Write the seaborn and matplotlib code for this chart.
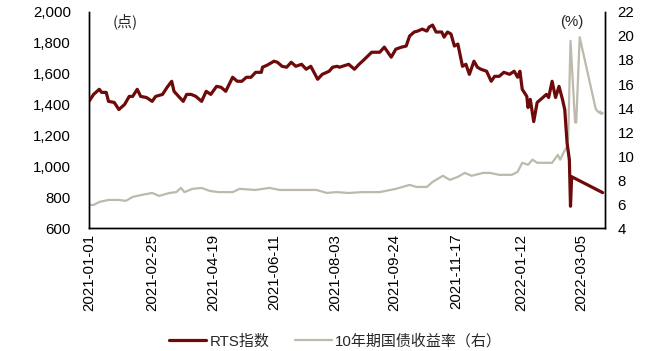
import matplotlib
matplotlib.use("Agg")
import matplotlib.pyplot as plt
from matplotlib.ticker import FuncFormatter, MultipleLocator
import seaborn as sns
import pandas as pd

# ---- data ----
rts_dates = [
    "2021-01-01", "2021-01-05", "2021-01-10", "2021-01-12", "2021-01-16", "2021-01-18",
    "2021-01-23", "2021-01-27", "2021-02-01", "2021-02-05", "2021-02-08", "2021-02-12",
    "2021-02-15", "2021-02-20", "2021-02-25", "2021-02-28", "2021-03-06", "2021-03-10",
    "2021-03-14", "2021-03-16", "2021-03-20", "2021-03-24", "2021-03-27", "2021-03-31",
    "2021-04-04", "2021-04-09", "2021-04-13", "2021-04-17", "2021-04-22", "2021-04-26",
    "2021-04-30", "2021-05-06", "2021-05-10", "2021-05-14", "2021-05-18", "2021-05-22",
    "2021-05-26", "2021-05-31", "2021-06-01", "2021-06-05", "2021-06-11", "2021-06-14",
    "2021-06-18", "2021-06-22", "2021-06-26", "2021-06-30", "2021-07-05", "2021-07-09",
    "2021-07-13", "2021-07-19", "2021-07-23", "2021-07-29", "2021-08-01", "2021-08-05",
    "2021-08-07", "2021-08-15", "2021-08-20", "2021-08-24", "2021-08-27", "2021-09-04",
    "2021-09-11", "2021-09-15", "2021-09-21", "2021-09-25", "2021-09-30", "2021-10-04",
    "2021-10-07", "2021-10-11", "2021-10-14", "2021-10-18", "2021-10-22", "2021-10-24",
    "2021-10-27", "2021-10-30", "2021-11-04", "2021-11-06", "2021-11-09", "2021-11-12",
    "2021-11-15", "2021-11-18", "2021-11-22", "2021-11-25", "2021-11-28", "2021-12-02",
    "2021-12-05", "2021-12-08", "2021-12-13", "2021-12-17", "2021-12-20", "2021-12-24",
    "2021-12-28", "2022-01-02", "2022-01-06", "2022-01-09", "2022-01-11", "2022-01-13",
    "2022-01-17", "2022-01-18", "2022-01-20", "2022-01-23", "2022-01-26", "2022-01-31",
    "2022-02-03", "2022-02-05", "2022-02-08", "2022-02-11", "2022-02-14", "2022-02-17",
    "2022-02-19", "2022-02-21", "2022-02-23", "2022-02-24", "2022-02-25", "2022-03-24",
]
rts_values = [
    1421, 1466, 1499, 1479, 1479, 1421,
    1414, 1368, 1401, 1453, 1453, 1499,
    1453, 1446, 1421, 1453, 1466, 1512,
    1551, 1486, 1453, 1421, 1466, 1466,
    1453, 1421, 1486, 1466, 1518, 1512,
    1486, 1577, 1551, 1551, 1577, 1577,
    1609, 1609, 1642, 1655, 1681, 1674,
    1648, 1642, 1674, 1648, 1661, 1629,
    1648, 1564, 1596, 1616, 1642, 1648,
    1642, 1661, 1629, 1661, 1681, 1739,
    1739, 1772, 1707, 1759, 1772, 1779,
    1844, 1870, 1876, 1889, 1876, 1902,
    1915, 1870, 1870, 1837, 1870, 1857,
    1779, 1792, 1648, 1661, 1596, 1681,
    1642, 1629, 1616, 1551, 1583, 1583,
    1609, 1596, 1616, 1577, 1616, 1499,
    1453, 1381, 1434, 1290, 1414, 1446,
    1466, 1446, 1551, 1446, 1518, 1434,
    1368, 1154, 1043, 742, 933, 830,
]

yld_dates = [
    "2021-01-01", "2021-01-05", "2021-01-10", "2021-01-18", "2021-01-27", "2021-02-02",
    "2021-02-08", "2021-02-16", "2021-02-25", "2021-03-03", "2021-03-12", "2021-03-18",
    "2021-03-22", "2021-03-25", "2021-04-01", "2021-04-09", "2021-04-16", "2021-04-24",
    "2021-05-06", "2021-05-12", "2021-05-26", "2021-06-07", "2021-06-16", "2021-06-27",
    "2021-07-09", "2021-07-18", "2021-07-27", "2021-08-04", "2021-08-15", "2021-08-27",
    "2021-09-11", "2021-09-25", "2021-10-07", "2021-10-13", "2021-10-22", "2021-10-27",
    "2021-11-05", "2021-11-11", "2021-11-18", "2021-11-24", "2021-11-30", "2021-12-10",
    "2021-12-16", "2021-12-24", "2022-01-04", "2022-01-09", "2022-01-13", "2022-01-18",
    "2022-01-22", "2022-01-26", "2022-02-03", "2022-02-08", "2022-02-13", "2022-02-15",
    "2022-02-18", "2022-02-21", "2022-02-22", "2022-02-24", "2022-02-28", "2022-03-01",
    "2022-03-04", "2022-03-18", "2022-03-21", "2022-03-22", "2022-03-23", "2022-03-24",
]
yld_values = [
    5.93, 5.93, 6.18, 6.35, 6.35, 6.27,
    6.60, 6.77, 6.93, 6.68, 6.93, 7.00,
    7.35, 7.00, 7.27, 7.35, 7.10, 7.00,
    7.00, 7.27, 7.18, 7.35, 7.18, 7.18,
    7.18, 7.18, 6.93, 7.00, 6.93, 7.00,
    7.00, 7.27, 7.60, 7.43, 7.43, 7.85,
    8.36, 8.02, 8.27, 8.60, 8.36, 8.60,
    8.60, 8.44, 8.44, 8.69, 9.44, 9.28,
    9.70, 9.44, 9.44, 9.44, 10.10, 9.70,
    10.30, 10.80, 11.50, 19.60, 12.80, 12.80,
    19.90, 13.90, 13.60, 13.70, 13.50, 13.60,
]

tick_labels = ["2021-01-01", "2021-02-25", "2021-04-19", "2021-06-11", "2021-08-03",
               "2021-09-24", "2021-11-17", "2022-01-12", "2022-03-05"]
rts_name = "RTS指数"
yld_name = "10年期国债收益率（右）"

# ---- plotting ----
sns.set_style("white")
plt.rcParams["font.family"] = ["Liberation Sans", "Noto Sans CJK SC", "DejaVu Sans"]

rts_df = pd.DataFrame({"date": pd.to_datetime(rts_dates), "value": rts_values})
yld_df = pd.DataFrame({"date": pd.to_datetime(yld_dates), "value": yld_values})

RTS_COLOR = "#6E0A0A"
YLD_COLOR = "#BDBAAC"
FS = 10.8

fig = plt.figure(figsize=(6.71, 3.51), dpi=100)
ax = fig.add_axes([0.1326, 0.350, 0.7690, 0.616])
ax2 = ax.twinx()

sns.lineplot(data=yld_df, x="date", y="value", ax=ax2, color=YLD_COLOR,
             linewidth=1.6, label=yld_name, legend=False)
sns.lineplot(data=rts_df, x="date", y="value", ax=ax, color=RTS_COLOR,
             linewidth=2.3, label=rts_name, legend=False)

ax.set_zorder(ax2.get_zorder() + 1)
ax.patch.set_visible(False)

ax.set_xlim(pd.Timestamp("2021-01-01"), pd.Timestamp("2022-03-26"))
ax.set_ylim(600, 2000)
ax2.set_ylim(4, 22)
ax.yaxis.set_major_locator(MultipleLocator(200))
ax2.yaxis.set_major_locator(MultipleLocator(2))
ax.yaxis.set_major_formatter(FuncFormatter(lambda v, p: f"{int(v):,}"))

ax.set_xticks(pd.to_datetime(tick_labels))
ax.set_xticklabels(tick_labels, rotation=90)

for a in (ax, ax2):
    a.set_xlabel("")
    a.set_ylabel("")
    a.tick_params(axis="both", length=0, labelsize=FS, colors="black", pad=4)
    a.grid(False)
    for side in ("left", "bottom", "right"):
        a.spines[side].set_visible(True)
        a.spines[side].set_color("black")
        a.spines[side].set_linewidth(1.0)
    a.spines["top"].set_visible(False)
ax.tick_params(axis="y", pad=13)
ax2.tick_params(axis="y", pad=9)

ax.text(0.07, 0.955, "(点)", transform=ax.transAxes, fontsize=FS,
        family=["Noto Sans CJK SC", "DejaVu Sans"], ha="center", va="center")
ax.text(0.935, 0.955, "(%)", transform=ax.transAxes, fontsize=FS,
        ha="center", va="center")

h1, l1 = ax.get_legend_handles_labels()
h2, l2 = ax2.get_legend_handles_labels()
fig.legend(h1 + h2, l1 + l2, loc="center", bbox_to_anchor=(0.5, 0.028), ncol=2,
           frameon=False, handlelength=2.5, columnspacing=1.7,
           handletextpad=0.2, prop={"family": ["Liberation Sans", "Noto Sans CJK SC"], "size": FS})

fig.savefig("out.png", dpi=100)
